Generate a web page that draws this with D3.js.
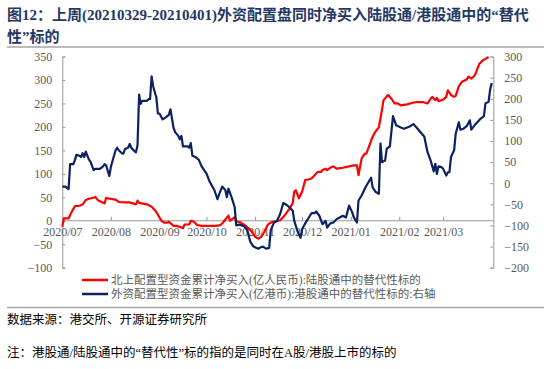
<!DOCTYPE html>
<html>
<head>
<meta charset="utf-8">
<script src="https://cdn.jsdelivr.net/npm/d3@7"></script>
<style>
  html, body { margin: 0; padding: 0; background: #fff; }
  svg { display: block; }
</style>
</head>
<body>
<div id="chart"></div>
<script>
const TITLE_LINES = ["图12：上周(20210329-20210401)外资配置盘同时净买入陆股通/港股通中的“替代", "性”标的"];
const LEGEND_LABELS = [
  "北上配置型资金累计净买入(亿人民币):陆股通中的替代性标的",
  "外资配置型资金累计净买入(亿港币):港股通中的替代性标的:右轴"
];
const SOURCE_TEXT = "数据来源：港交所、开源证券研究所";
const NOTE_TEXT = "注：港股通/陆股通中的“替代性”标的指的是同时在A股/港股上市的标的";

const LEFT_TICKS = [-100, -50, 0, 50, 100, 150, 200, 250, 300, 350];
const RIGHT_TICKS = [-200, -150, -100, -50, 0, 50, 100, 150, 200, 250, 300];
const MONTH_TICKS = ["2020-07-01","2020-08-01","2020-09-01","2020-10-01","2020-11-01","2020-12-01","2021-01-01","2021-02-01","2021-03-01"];

// red series: left axis
const redDates = ["2020-07-01","2020-07-02","2020-07-05","2020-07-07","2020-07-09","2020-07-12","2020-07-14","2020-07-16","2020-07-18","2020-07-21","2020-07-22","2020-07-24","2020-07-26","2020-07-28","2020-07-29","2020-07-31",
  "2020-08-04","2020-08-06","2020-08-10","2020-08-13","2020-08-15","2020-08-17","2020-08-18","2020-08-19","2020-08-24","2020-08-27","2020-08-29","2020-08-31",
  "2020-09-02","2020-09-04","2020-09-06","2020-09-07","2020-09-10","2020-09-12","2020-09-14","2020-09-16","2020-09-17","2020-09-20","2020-09-21","2020-09-23","2020-09-25","2020-09-28",
  "2020-10-07","2020-10-10","2020-10-12","2020-10-15","2020-10-16","2020-10-18","2020-10-19","2020-10-20","2020-10-23","2020-10-26","2020-10-30",
  "2020-11-01","2020-11-03","2020-11-05","2020-11-07","2020-11-09","2020-11-11","2020-11-13","2020-11-17","2020-11-20","2020-11-23","2020-11-25","2020-11-26","2020-11-27","2020-11-29",
  "2020-12-01","2020-12-03","2020-12-05","2020-12-07","2020-12-09","2020-12-10","2020-12-11","2020-12-13","2020-12-14","2020-12-16","2020-12-17","2020-12-19","2020-12-21","2020-12-23","2020-12-27","2020-12-31",
  "2021-01-03","2021-01-05","2021-01-06","2021-01-08","2021-01-10","2021-01-11","2021-01-13","2021-01-15","2021-01-17","2021-01-19","2021-01-20","2021-01-22","2021-01-24","2021-01-25","2021-01-27","2021-01-29","2021-01-31",
  "2021-02-02","2021-02-06","2021-02-09","2021-02-12","2021-02-16","2021-02-19","2021-02-21","2021-02-22","2021-02-24","2021-02-25","2021-02-26",
  "2021-03-01","2021-03-03","2021-03-04","2021-03-06","2021-03-08","2021-03-09","2021-03-11","2021-03-13","2021-03-16","2021-03-17","2021-03-19","2021-03-21","2021-03-22","2021-03-24","2021-03-26","2021-03-28","2021-03-30"];
const redValues = [-13,5,5,19,31,32,35,44,47,49,51,43,40,37,49,47,
  45,40,39,39,37,35,43,38,35,30,23,13,
  1,-4,-4,-2,-11,-11,-13,-16,-8,-8,0,-2,-9,-11,
  -11,-9,-2,11,0,5,8,-1,-4,-11,-23,
  -34,-38,-34,-23,-9,-4,-2,1,12,26,37,62,65,48,
  62,87,88,90,97,101,104,104,108,111,108,113,116,111,113,116,
  118,118,97,133,143,143,161,179,191,199,218,257,265,268,260,250,250,
  246,248,251,253,253,250,260,264,257,262,255,
  258,264,278,268,264,266,287,296,301,307,303,309,316,334,341,345,349];

// blue series: right axis
const blueDates = ["2020-07-01","2020-07-03","2020-07-05","2020-07-06","2020-07-08","2020-07-09","2020-07-10","2020-07-12","2020-07-13","2020-07-14","2020-07-15","2020-07-16","2020-07-17","2020-07-18","2020-07-19","2020-07-21","2020-07-22","2020-07-25","2020-07-27","2020-07-28","2020-07-29","2020-07-31",
  "2020-08-01","2020-08-04","2020-08-05","2020-08-06","2020-08-08","2020-08-09","2020-08-10","2020-08-12","2020-08-13","2020-08-14","2020-08-16","2020-08-17","2020-08-18","2020-08-19","2020-08-20","2020-08-21","2020-08-24","2020-08-25","2020-08-26","2020-08-27","2020-08-28","2020-08-30","2020-08-31",
  "2020-09-01","2020-09-03","2020-09-05","2020-09-07","2020-09-08","2020-09-10","2020-09-11","2020-09-13","2020-09-14","2020-09-15","2020-09-16","2020-09-19","2020-09-20","2020-09-21","2020-09-22","2020-09-24","2020-09-26","2020-09-28",
  "2020-10-01","2020-10-03","2020-10-06","2020-10-08","2020-10-09","2020-10-11","2020-10-13","2020-10-14","2020-10-15","2020-10-17","2020-10-19","2020-10-20","2020-10-22","2020-10-25","2020-10-27","2020-10-29","2020-10-31",
  "2020-11-03","2020-11-04","2020-11-06","2020-11-08","2020-11-10","2020-11-11","2020-11-13","2020-11-15","2020-11-17","2020-11-19","2020-11-21","2020-11-23","2020-11-25","2020-11-26","2020-11-28","2020-11-30",
  "2020-12-01","2020-12-03","2020-12-06","2020-12-07","2020-12-09","2020-12-10","2020-12-12","2020-12-14","2020-12-16","2020-12-17","2020-12-19","2020-12-21","2020-12-23","2020-12-25","2020-12-27","2020-12-29","2020-12-31",
  "2021-01-02","2021-01-03","2021-01-05","2021-01-06","2021-01-08","2021-01-10","2021-01-11","2021-01-14","2021-01-15","2021-01-17","2021-01-19","2021-01-20","2021-01-21","2021-01-23","2021-01-24","2021-01-26","2021-01-28","2021-01-30",
  "2021-02-02","2021-02-04","2021-02-06","2021-02-08","2021-02-10","2021-02-12","2021-02-15","2021-02-17","2021-02-19","2021-02-21","2021-02-23","2021-02-24","2021-02-25","2021-02-26","2021-02-28",
  "2021-03-01","2021-03-03","2021-03-04","2021-03-05","2021-03-06","2021-03-08","2021-03-09","2021-03-11","2021-03-12","2021-03-14","2021-03-16","2021-03-18","2021-03-19","2021-03-21","2021-03-23","2021-03-25","2021-03-27","2021-03-28","2021-03-30","2021-03-31","2021-04-01"];
const blueValues = [-8,-8,-14,45,45,54,67,65,62,71,62,75,65,56,51,31,34,34,40,45,42,17,
  39,78,84,78,71,70,81,84,93,84,76,73,90,210,188,195,195,199,199,253,229,203,165,
  165,151,156,162,175,131,121,112,104,112,87,87,84,95,65,62,56,39,
  23,4,-16,-38,-27,-8,-16,-33,-13,-33,-57,-100,-98,-102,-111,-139,-150,
  -155,-153,-150,-155,-153,-111,-94,-89,-73,-47,-51,-57,-65,-89,-113,-129,
  -109,-95,-77,-71,-71,-67,-77,-97,-89,-105,-95,-93,-85,-81,-77,-81,-53,
  -69,-81,-93,-41,-29,-13,-6,13,-10,-21,-25,94,50,54,82,87,159,137,
  132,129,132,135,140,132,119,110,74,54,28,46,22,40,38,
  34,18,26,26,62,78,117,144,127,129,135,149,127,137,145,153,159,189,193,222,237];

const W = 550, H = 369;
const parse = d3.timeParse("%Y-%m-%d");
const serif = "'Liberation Serif', 'Times New Roman', 'Noto Sans CJK SC', serif";
const cjk = "'Liberation Serif', 'Noto Sans CJK SC', sans-serif";
const axisColor = "#999";
const labelColor = "#595959";

const plot = { left: 62.3, right: 493.3, top: 56.5, bottom: 267.7 };

const x = d3.scaleTime()
  .domain([parse("2020-07-01"), parse("2021-04-02")])
  .range([plot.left, plot.right]);
const yL = d3.scaleLinear().domain([-100, 350]).range([plot.bottom, plot.top]);
const yR = d3.scaleLinear().domain([-200, 300]).range([plot.bottom, plot.top]);

const svg = d3.select("#chart").append("svg").attr("width", W).attr("height", H);

// --- Title ---
const title = svg.append("g").attr("font-family", cjk).attr("font-weight", "bold")
  .attr("font-size", 15).attr("fill", "#1F3864");
TITLE_LINES.forEach((t, i) => {
  title.append("text").attr("x", 7).attr("y", 20 + i * 22).text(t);
});
svg.append("line").attr("x1", 7).attr("x2", 544).attr("y1", 47).attr("y2", 47)
  .attr("stroke", "#a6a6a6").attr("stroke-width", 1.5);

// --- Axes ---
const gL = svg.append("g").attr("transform", `translate(${plot.left},0)`)
  .call(d3.axisLeft(yL).tickValues(LEFT_TICKS).tickSize(-3).tickPadding(10));
const gR = svg.append("g").attr("transform", `translate(${plot.right},0)`)
  .call(d3.axisRight(yR).tickValues(RIGHT_TICKS).tickSize(-3).tickPadding(11));
const gX = svg.append("g").attr("transform", `translate(0,${yL(0)})`)
  .call(d3.axisBottom(x).tickValues(MONTH_TICKS.map(parse)).tickFormat(d3.timeFormat("%Y/%m"))
    .tickSize(-4).tickPadding(7));

for (const g of [gL, gR, gX]) {
  g.select(".domain").attr("stroke", axisColor).attr("stroke-width", 1);
  g.selectAll(".tick line").attr("stroke", axisColor);
  g.selectAll("text").attr("font-family", serif).attr("font-size", 12).attr("fill", labelColor);
}
gX.select(".domain").attr("d", `M${plot.left},0H${plot.right}`);

// --- Lines ---
const redData = redDates.map((d, i) => ({ date: parse(d), value: redValues[i] }));
const blueData = blueDates.map((d, i) => ({ date: parse(d), value: blueValues[i] }));

svg.append("path").datum(redData)
  .attr("fill", "none").attr("stroke", "#FF0000").attr("stroke-width", 2.2)
  .attr("stroke-linejoin", "round")
  .attr("d", d3.line().x(d => x(d.date)).y(d => yL(d.value)));

svg.append("path").datum(blueData)
  .attr("fill", "none").attr("stroke", "#0C2160").attr("stroke-width", 2.2)
  .attr("stroke-linejoin", "round")
  .attr("d", d3.line().x(d => x(d.date)).y(d => yR(d.value)));

// --- Legend ---
const legend = svg.append("g");
const legendColors = ["#FF0000", "#0C2160"];
LEGEND_LABELS.forEach((label, i) => {
  const ly = 280 + i * 14;
  legend.append("line").attr("x1", 82).attr("x2", 108).attr("y1", ly).attr("y2", ly)
    .attr("stroke", legendColors[i]).attr("stroke-width", 2.5);
  legend.append("text").attr("x", 111).attr("y", ly).attr("dy", "0.35em")
    .attr("font-family", cjk).attr("font-size", 11.5).attr("fill", labelColor).text(label);
});

svg.append("line").attr("x1", 7).attr("x2", 544).attr("y1", 307.5).attr("y2", 307.5)
  .attr("stroke", "#a6a6a6").attr("stroke-width", 1.5);

// --- Footer ---
svg.append("text").attr("x", 7).attr("y", 320).attr("dy", "0.35em")
  .attr("font-family", cjk).attr("font-size", 12.5).attr("fill", "#000").text(SOURCE_TEXT);
svg.append("text").attr("x", 7).attr("y", 353).attr("dy", "0.35em")
  .attr("font-family", cjk).attr("font-size", 12.5).attr("fill", "#000").text(NOTE_TEXT);
</script>
</body>
</html>
